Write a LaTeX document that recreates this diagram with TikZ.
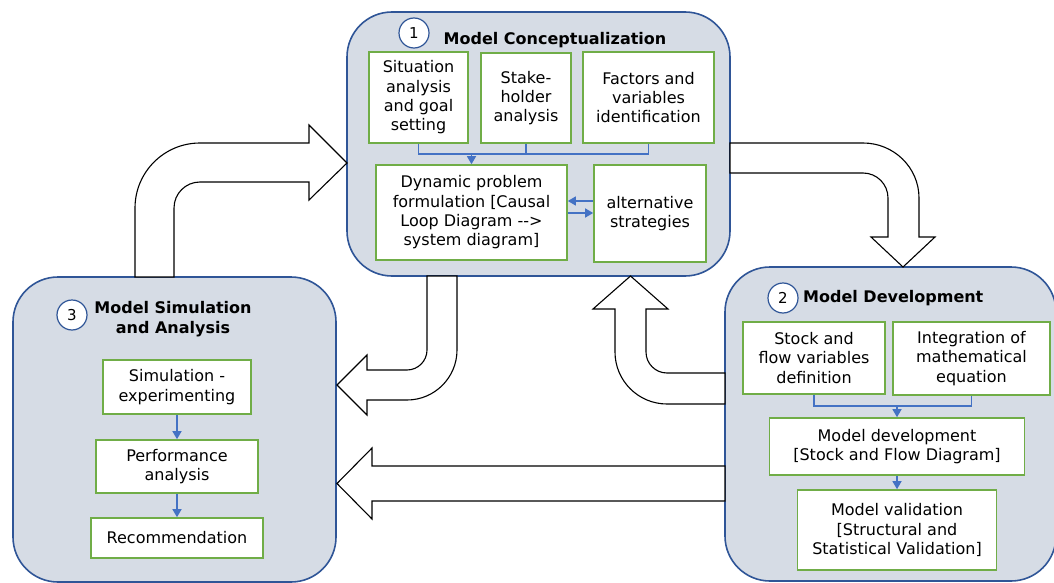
\documentclass[tikz,border=0pt]{standalone}
\usepackage{fontspec}
\setmainfont{DejaVu Sans}
\usetikzlibrary{arrows.meta}
\definecolor{boxfill}{HTML}{D6DCE5}
\definecolor{boxline}{HTML}{2F5597}
\definecolor{grn}{HTML}{70AD47}
\definecolor{flowc}{HTML}{4472C4}
\begin{document}
\begin{tikzpicture}[x=1pt,y=-1pt,
 stage/.style={draw=boxline, fill=boxfill, line width=1.6pt, rounded corners=45pt, inner sep=0pt},
 task/.style={draw=grn, fill=white, line width=1.6pt, inner sep=0pt, align=center, font=\fontsize{16}{19.3}\selectfont},
 num/.style={circle, draw=boxline, fill=white, line width=1.2pt, minimum size=30pt, inner sep=0pt, font=\fontsize{15}{18}\selectfont},
 ttl/.style={font=\bfseries\fontsize{16}{19.3}\selectfont, align=center, inner sep=0pt},
 flow/.style={draw=flowc, line width=1.3pt, -{Triangle[length=8pt,width=9pt]}},
 flowline/.style={draw=flowc, line width=1.3pt},
 bigarrow/.style={draw=black, fill=white, line width=1.1pt, line join=miter}]
\useasboundingbox (0,0) rectangle (1054,583);

% stages
\node[stage, minimum width=383pt, minimum height=264pt] (s1) at (538.5,144) {};
\node[stage, minimum width=323pt, minimum height=305pt] (s3) at (174.5,429.5) {};
\node[stage, minimum width=331pt, minimum height=314pt] (s2) at (890.5,424) {};

% big hollow arrows
% A: stage 3 -> stage 1
\draw[bigarrow] (135,277) -- (135,208) .. controls (135,172.1) and (164.1,143) .. (200,143)
  -- (309,143) -- (309,125) -- (347,163) -- (309,200) -- (309,182) -- (200,182)
  .. controls (185.6,182) and (174,193.6) .. (174,208) -- (174,277) -- cycle;
% B: stage 1 -> stage 2
\draw[bigarrow] (730,143) -- (863,143) .. controls (893.9,143) and (919,167.6) .. (919,198)
  -- (919,237) -- (935,237) -- (903,267) -- (871,237) -- (888,237) -- (888,198)
  .. controls (888,184.2) and (876.8,173) .. (863,173) -- (730,173) -- cycle;
% C: stage 1 -> stage 3
\draw[bigarrow] (427,276) -- (427,350) .. controls (427,361) and (418,370) .. (407,370)
  -- (367,370) -- (367,355) -- (337,385) -- (367,415) -- (367,400) -- (407,400)
  .. controls (434.6,400) and (457,377.6) .. (457,350) -- (457,276) -- cycle;
% D: stage 2 -> stage 1
\draw[bigarrow] (725,373) -- (667,373) .. controls (655.4,373) and (646,363.6) .. (646,352)
  -- (646,309) -- (668,309) -- (630.5,276) -- (593,309) -- (615,309) -- (615,352)
  .. controls (615,380.7) and (638.3,404) .. (667,404) -- (725,404) -- cycle;
% E: stage 2 -> stage 3
\draw[bigarrow] (725,466) -- (372,466) -- (372,448) -- (337,483.5) -- (372,519) -- (372,501) -- (725,501) -- cycle;

% stage 1 content
\node[num] (n1) at (414,33) {1};
\node[ttl] (t1) at (555,40) {Model Conceptualization};
\node[task, minimum width=99pt, minimum height=91pt] (sit) at (418.5,97.5) {Situation\\analysis\\and goal\\setting};
\node[task, minimum width=90pt, minimum height=90pt] (stake) at (526,98) {Stake-\\holder\\analysis};
\node[task, minimum width=131pt, minimum height=91pt] (fact) at (648.5,97.5) {Factors and\\variables\\identification};
\node[task, minimum width=191pt, minimum height=95pt] (dyn) at (471.5,212.5) {Dynamic problem\\formulation {[}Causal\\Loop Diagram -{}-{}>\\system diagram{]}};
\node[task, minimum width=112pt, minimum height=97pt] (alt) at (650,213.5) {alternative\\strategies};
\coordinate (j1) at (0,154);
\coordinate (ya) at (0,201);
\coordinate (yb) at (0,213);
\draw[flowline] (sit.south) -- (sit.south |- j1) -| (fact.south);
\draw[flowline] (stake.south) -- (stake.south |- j1);
\draw[flow] (dyn.north |- j1) -- (dyn.north);
\draw[flow] (alt.west |- ya) -- (dyn.east |- ya);
\draw[flow] (dyn.east |- yb) -- (alt.west |- yb);

% stage 3 content
\node[num] (n3) at (72,315) {3};
\node[ttl] (t3) at (173,319) {Model Simulation\\and Analysis};
\node[task, minimum width=148pt, minimum height=54pt] (sim) at (177,387) {Simulation -\\experimenting};
\node[task, minimum width=162pt, minimum height=53pt] (perf) at (177,466.5) {Performance\\analysis};
\node[task, minimum width=172pt, minimum height=40pt] (rec) at (177,538) {Recommendation};
\draw[flow] (sim.south) -- (perf.north);
\draw[flow] (perf.south) -- (rec.north);

% stage 2 content
\node[num] (n2) at (783,298) {2};
\node[ttl, anchor=west] (t2) at (803,298) {Model Development};
\node[task, minimum width=142pt, minimum height=72pt] (stock) at (814,358) {Stock and\\flow variables\\definition};
\node[task, minimum width=157pt, minimum height=73pt] (integ) at (971.5,358.5) {Integration of\\mathematical\\equation};
\node[task, minimum width=255pt, minimum height=57pt] (mdev) at (897,446.5) {Model development\\{[}Stock and Flow Diagram{]}};
\node[task, minimum width=199pt, minimum height=80pt] (mval) at (897,530) {Model validation\\{[}Structural and\\Statistical Validation{]}};
\coordinate (j2) at (0,406);
\draw[flowline] (stock.south) -- (stock.south |- j2) -| (integ.south);
\draw[flow] (mdev.north |- j2) -- (mdev.north);
\draw[flow] (mdev.south) -- (mval.north);
\end{tikzpicture}
\end{document}
